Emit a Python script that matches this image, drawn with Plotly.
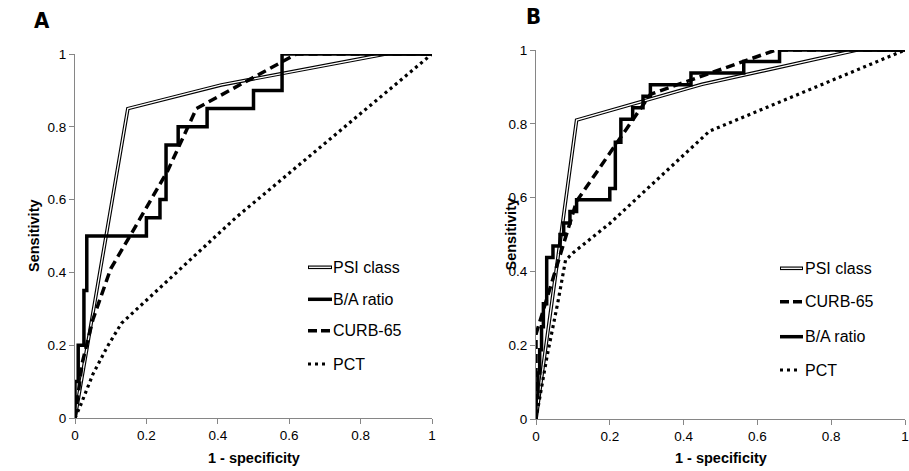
import plotly.graph_objects as go

# ---------------- data (ROC points) ----------------
# Panel A
psi_a_fpr = [0, 0.148, 0.41, 0.87, 1]
psi_a_tpr = [0, 0.85, 0.915, 1, 1]

ba_a_fpr = [0, 0, 0.009, 0.025, 0.033, 0.2, 0.238, 0.255, 0.289, 0.37, 0.5, 0.58, 1]
ba_a_tpr = [0, 0.1, 0.2, 0.35, 0.5, 0.55, 0.6, 0.75, 0.8, 0.85, 0.9, 1.0, 1]

curb_a_fpr = [0, 0.02, 0.05, 0.1, 0.16, 0.26, 0.34, 0.62, 1]
curb_a_tpr = [0, 0.15, 0.27, 0.41, 0.51, 0.68, 0.85, 1, 1]

pct_a_fpr = [0, 0.014, 0.05, 0.09, 0.13, 0.45, 1]
pct_a_tpr = [0, 0.031, 0.12, 0.195, 0.26, 0.55, 1]

# Panel B
psi_b_fpr = [0, 0.11, 0.45, 0.87, 1]
psi_b_tpr = [0, 0.81, 0.907, 1, 1]

curb_b_fpr = [0, 0, 0.11, 0.31, 0.65, 1]
curb_b_tpr = [0, 0.23, 0.59, 0.88, 1, 1]

ba_b_fpr = [0, 0, 0.005, 0.01, 0.015, 0.02, 0.029, 0.046, 0.065, 0.075, 0.092, 0.11,
            0.2, 0.215, 0.23, 0.262, 0.29, 0.31, 0.42, 0.563, 0.66, 1]
ba_b_tpr = [0, 0.0625, 0.125, 0.1875, 0.25, 0.3125, 0.4375, 0.469, 0.5, 0.531, 0.5625, 0.594,
            0.625, 0.75, 0.8125, 0.84375, 0.875, 0.906, 0.9375, 0.969, 1, 1]

pct_b_fpr = [0, 0.03, 0.06, 0.08, 0.1, 0.2, 0.47, 1]
pct_b_tpr = [0, 0.17, 0.32, 0.43, 0.45, 0.53, 0.78, 1]

tick_vals = [0, 0.2, 0.4, 0.6, 0.8, 1]
tick_text = ["0", "0.2", "0.4", "0.6", "0.8", "1"]

legend_a = ["PSI class", "B/A ratio", "CURB-65", "PCT"]
legend_b = ["PSI class", "CURB-65", "B/A ratio", "PCT"]

# ---------------- styling ----------------
W, H = 909, 471
FONT = "Liberation Sans, Arial, sans-serif"
AXIS_GRAY = "#868686"


def px(x):
    return x / W


def py(y):
    return 1 - y / H


STYLES = {
    "PSI class": dict(color="black", width=3.6),
    "B/A ratio": dict(color="black", width=3.5),
    "CURB-65": dict(color="black", width=3.5, dash="9px,5px"),
    "PCT": dict(color="black", width=3.2, dash="3px,3.6px"),
}

fig = go.Figure()


def add_panel(xa, ya, series):
    for name, xs, ys, shape in series:
        fig.add_trace(go.Scatter(x=xs, y=ys, mode="lines", line=dict(**STYLES[name], shape=shape),
                                 xaxis=xa, yaxis=ya, showlegend=False, cliponaxis=False,
                                 hoverinfo="skip"))
        if name == "PSI class":
            fig.add_trace(go.Scatter(x=xs, y=ys, mode="lines", line=dict(color="white", width=1.3),
                                     xaxis=xa, yaxis=ya, showlegend=False, cliponaxis=False,
                                     hoverinfo="skip"))


add_panel("x", "y", [
    ("PSI class", psi_a_fpr, psi_a_tpr, "linear"),
    ("B/A ratio", ba_a_fpr, ba_a_tpr, "hv"),
    ("CURB-65", curb_a_fpr, curb_a_tpr, "linear"),
    ("PCT", pct_a_fpr, pct_a_tpr, "linear"),
])
add_panel("x2", "y2", [
    ("PSI class", psi_b_fpr, psi_b_tpr, "linear"),
    ("CURB-65", curb_b_fpr, curb_b_tpr, "linear"),
    ("B/A ratio", ba_b_fpr, ba_b_tpr, "hv"),
    ("PCT", pct_b_fpr, pct_b_tpr, "linear"),
])

# plot areas in pixels
A = dict(x0=75, x1=432, y0=418, y1=54)
B = dict(x0=536, x1=905, y0=419, y1=50)

axis_common = dict(range=[0, 1], tickvals=tick_vals, ticktext=tick_text, showgrid=False,
                   zeroline=False, showline=True, linecolor=AXIS_GRAY, linewidth=1,
                   ticks="outside", ticklen=5, tickcolor=AXIS_GRAY, tickwidth=1,
                   tickfont=dict(family=FONT, size=13.5, color="black"), fixedrange=True,
                   automargin=False, ticklabeloverflow="allow")

fig.update_layout(
    width=W, height=H,
    margin=dict(l=0, r=0, t=0, b=0, pad=0),
    paper_bgcolor="white", plot_bgcolor="white",
    showlegend=False,
    xaxis=dict(domain=[px(A["x0"]), px(A["x1"])], anchor="y", **axis_common),
    yaxis=dict(domain=[py(A["y0"]), py(A["y1"])], anchor="x", **axis_common),
    xaxis2=dict(domain=[px(B["x0"]), px(B["x1"])], anchor="y2", **axis_common),
    yaxis2=dict(domain=[py(B["y0"]), py(B["y1"])], anchor="x2", **axis_common),
)

annotations = []
shapes = []

# axis titles
for P, sx in ((A, 34), (B, 510)):
    annotations.append(dict(text="<b>Sensitivity</b>", x=px(sx), y=py((P["y0"] + P["y1"]) / 2),
                            xref="paper", yref="paper", showarrow=False, textangle=-90,
                            font=dict(family=FONT, size=14.5, color="black"),
                            xanchor="center", yanchor="middle"))
    annotations.append(dict(text="<b>1 - specificity</b>", x=px((P["x0"] + P["x1"]) / 2), y=py(458),
                            xref="paper", yref="paper", showarrow=False,
                            font=dict(family=FONT, size=14.5, color="black"),
                            xanchor="center", yanchor="middle"))

# panel letters
for letter, lx, ly in (("A", 42, 21), ("B", 533, 17)):
    annotations.append(dict(text="<b>%s</b>" % letter, x=px(lx), y=py(ly), xref="paper", yref="paper",
                            showarrow=False, xanchor="center", yanchor="middle",
                            font=dict(family="Liberation Sans Narrow, DejaVu Sans Condensed, " + FONT,
                                      size=22, color="black")))


# manual legends (line samples + labels)
def legend(names, xs0, xs1, xt, ys):
    for name, yy in zip(names, ys):
        st = STYLES[name]
        ln = dict(color="black", width=st["width"])
        x_end = xs1
        if name == "CURB-65":
            ln["dash"] = "9px,4px"
        if name == "PCT":
            ln["dash"] = "3px,4px"
            x_end = xs1 - 3
        shapes.append(dict(type="line", xref="paper", yref="paper", x0=px(xs0), x1=px(x_end),
                           y0=py(yy), y1=py(yy), line=ln))
        if name == "PSI class":
            shapes.append(dict(type="line", xref="paper", yref="paper", x0=px(xs0 + 1), x1=px(xs1 - 1),
                               y0=py(yy), y1=py(yy), line=dict(color="white", width=1.3)))
        annotations.append(dict(text=name, x=px(xt), y=py(yy), xref="paper", yref="paper",
                                showarrow=False, xanchor="left", yanchor="middle",
                                font=dict(family=FONT, size=16, color="black")))


legend(legend_a, 308, 332, 331, [267.3, 299.3, 330.7, 364])
legend(legend_b, 780, 803, 803, [268.3, 301.7, 336.7, 370])

fig.update_layout(annotations=annotations, shapes=shapes)

fig.write_html("out.html", config={"displayModeBar": False},
               post_script="document.body.style.margin='0';document.body.style.overflow='hidden';")
